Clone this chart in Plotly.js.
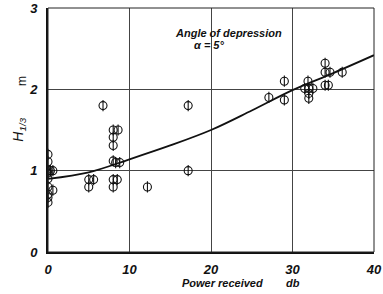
<!DOCTYPE html>
<html><head><meta charset="utf-8">
<script src="https://cdn.plot.ly/plotly-3.0.1.min.js"></script>
<style>html,body{margin:0;padding:0;background:#fff}</style>
</head><body><div id="c" style="width:383px;height:294px"></div>
<script>
const powerDb = [0,0,0,0.3,0.6,0,0,0,0,0,0,0.6, 5,5.6,5, 6.75, 8,8.6,8,8,8,8.3,8.8,8,8.5,8, 12.2, 17.2,17.2, 27.1,29,29, 31.9,31.5,32,32.5,32,32, 34,34,34.6,36.1,34,34.4];
const waveH  = [1.2,1.11,1.0,1.0,1.0,0.97,0.9,0.8,0.71,0.67,0.61,0.76, 0.89,0.89,0.8, 1.8, 1.5,1.5,1.41,1.31,1.12,1.1,1.1,0.89,0.89,0.8, 0.8, 1.8,1.0, 1.9,2.1,1.87, 2.1,2.01,2.01,2.01,1.95,1.89, 2.32,2.21,2.21,2.21,2.05,2.05];
const curveX = [0,5,10,15,20,25,30,35,40];
const curveY = [0.9,0.98,1.14,1.31,1.5,1.74,1.99,2.2,2.42];
const xTicks = [0,10,20,30,40];
const yTicks = [0,1,2,3];

const tf = {family:'Liberation Sans, Arial', size:13, color:'#111', style:'italic', weight:'bold'};
const lf = {family:'Liberation Sans, Arial', size:11, color:'#111', style:'italic', weight:'bold'};
const traces = [
  {x:curveX, y:curveY, mode:'lines', line:{color:'#111', width:1.8, shape:'spline'}, hoverinfo:'skip'},
  {x:powerDb, y:waveH, mode:'markers', marker:{symbol:'circle-open', size:8, color:'#111', line:{width:1.1, color:'#111'}}},
  {x:powerDb, y:waveH, mode:'markers', marker:{symbol:'line-ns-open', size:8, color:'#111', line:{width:1.1, color:'#111'}}}
];
const layout = {
  width:383, height:294, showlegend:false,
  margin:{l:48, r:9, t:8, b:42},
  paper_bgcolor:'#fff', plot_bgcolor:'#fff',
  xaxis:{range:[0,40], tickvals:xTicks, ticktext:xTicks.map(String), showgrid:true, gridcolor:'#444', gridwidth:1,
         zeroline:false, showline:true, linecolor:'#111', linewidth:2, ticks:'', tickfont:tf, ticklabelstandoff:4},
  yaxis:{range:[0,3], tickvals:yTicks, ticktext:yTicks.map(String), showgrid:true, gridcolor:'#444', gridwidth:1,
         zeroline:false, showline:true, linecolor:'#111', linewidth:2, ticks:'', tickfont:tf, ticklabelstandoff:6},
  shapes:[{type:'rect', xref:'paper', yref:'paper', x0:0, x1:1, y0:0, y1:1, line:{color:'#222', width:1}}],
  annotations:[
    {xref:'paper', yref:'paper', x:-0.09, y:0.5, text:'H<sub>1/3</sub>', showarrow:false, textangle:-90,
     font:{family:'Liberation Sans, Arial', size:14, color:'#111', style:'italic'}, xanchor:'center', yanchor:'middle'},
    {xref:'paper', yref:'paper', x:-0.08, y:0.7, text:'m', showarrow:false, textangle:-90,
     font:{family:'Liberation Sans, Arial', size:12, color:'#111'}, xanchor:'center', yanchor:'middle'},
    {xref:'paper', yref:'paper', x:0.534, y:-0.127, text:'Power received', showarrow:false,
     font:lf, xanchor:'center', yanchor:'middle'},
    {xref:'paper', yref:'paper', x:0.752, y:-0.127, text:'db', showarrow:false,
     font:lf, xanchor:'center', yanchor:'middle'},
    {xref:'x', yref:'y', x:22.1, y:2.69, text:'Angle of depression', showarrow:false,
     font:lf, xanchor:'center', yanchor:'middle'},
    {xref:'x', yref:'y', x:19.8, y:2.55, text:'α = 5°', showarrow:false,
     font:lf, xanchor:'center', yanchor:'middle'}
  ]
};
Plotly.newPlot('c', traces, layout, {staticPlot:true, displayModeBar:false});
</script></body></html>
